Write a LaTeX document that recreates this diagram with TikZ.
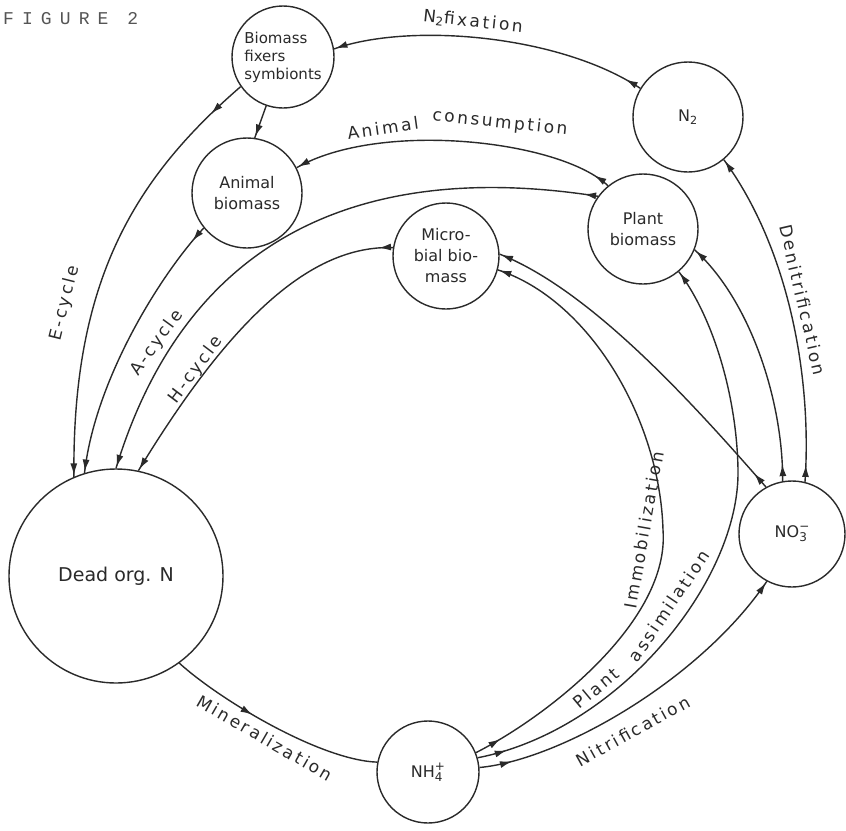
\documentclass[tikz,border=0pt]{standalone}
\usepackage{fontspec}
\usetikzlibrary{arrows.meta,decorations.markings}
\newfontfamily\lbl[LetterSpace=15]{DejaVu Sans}
\newfontfamily\nodefont{DejaVu Sans}
\newfontfamily\titlefont[LetterSpace=45]{Liberation Mono}
\definecolor{ink}{HTML}{2A2A2A}
\newcommand\ionsub[2]{\makebox[0pt][l]{\raisebox{-0.45ex}{\fontsize{12}{12}\selectfont #1}}\raisebox{0.85ex}{\fontsize{12}{12}\selectfont #2}}
\tikzset{
  tipA/.tip={Latex[length=12pt,width=7pt]},
  circ/.style={circle, draw=ink, line width=1.4pt, inner sep=0pt, text=ink,
    font=\nodefont\fontsize{16}{21}\selectfont, align=center},
  conn/.style={draw=ink, line width=1.4pt},
  endarr/.style={conn, decoration={markings, mark=at position -1.5pt with {\arrow{tipA}}}, postaction={decorate}},
  botharr/.style={conn, decoration={markings, mark=at position #1 with {\arrow{tipA}}, mark=at position -1.5pt with {\arrow{tipA}}}, postaction={decorate}},
  midarr/.style={conn, decoration={markings, mark=at position #1 with {\arrow{tipA}}}, postaction={decorate}},
  lab/.style={text=ink, font=\lbl\fontsize{17}{20}\selectfont, inner sep=0pt},
}
\begin{document}
\begin{tikzpicture}[x=1pt,y=1pt]
\useasboundingbox (0,0) rectangle (846,-830);
\fill[white] (0,0) rectangle (846,-830);

\node[text=ink!80, font=\titlefont\fontsize{18}{20}\selectfont, anchor=west, inner sep=0pt] (title) at (3,-19) {FIGURE 2};

% nodes
\node[circ, minimum size=102pt, align=left, font=\nodefont\fontsize{15}{18}\selectfont] (fix) at (283,-57) {Biomass\\fixers\\symbionts};
\node[circ, minimum size=110pt, font=\nodefont\fontsize{16}{18}\selectfont] (n2) at (688,-117) {N\textsubscript{2}};
\node[circ, minimum size=110pt] (ani) at (247,-193) {Animal\\biomass};
\node[circ, minimum size=106pt] (mic) at (446,-256) {Micro-\\bial bio-\\mass};
\node[circ, minimum size=110pt] (pla) at (643,-229) {Plant\\biomass};
\node[circ, minimum size=214pt, font=\nodefont\fontsize{19}{22}\selectfont] (dead) at (116,-576) {Dead org. N};
\node[circ, minimum size=102pt, font=\nodefont\fontsize{16}{18}\selectfont] (nh4) at (428,-772) {NH\ionsub{4}{+}};
\node[circ, minimum size=106pt, font=\nodefont\fontsize{16}{18}\selectfont] (no3) at (792,-534) {NO\ionsub{3}{\char"2212}};

\coordinate (imv) at (663,-530);
\coordinate (pav) at (738,-470);

% connectors
\draw[botharr=17pt] (n2.149) .. controls (560,-35) and (410,-22) .. (fix.9);
\draw[endarr] (fix.-109) -- (ani.82);
\draw[botharr=40pt] (fix.215) .. controls (135,-178) and (72,-280) .. (dead.113);
\draw[botharr=17pt] (ani.219) .. controls (160,-275) and (95,-380) .. (dead.107);
\draw[botharr=17pt] (pla.129) .. controls (560,-140) and (380,-120) .. (ani.27);
\draw[botharr=14pt] (pla.144) .. controls (398,-165) and (195,-209) .. (dead.90);
\draw[botharr=14pt] (mic.171) .. controls (310,-245) and (230,-320) .. (dead.78);
\draw[botharr=17pt] (no3.76) .. controls (812,-380) and (790,-250) .. (n2.-50);
\draw[botharr=17pt] (no3.100) .. controls (783,-400) and (750,-300) .. (pla.-22);
\draw[botharr=18pt] (no3.119) .. controls (690,-400) and (590,-290) .. (mic.2);
\draw[botharr=28pt] (nh4.22) .. controls (550,-715) and (670,-620) .. (imv) .. controls (660,-420) and (590,-300) .. (mic.-15);
\draw[botharr=30pt] (nh4.16) .. controls (620,-730) and (740,-580) .. (pav) .. controls (737,-400) and (715,-320) .. (pla.-50);
\draw[botharr=33pt] (nh4.5) .. controls (560,-760) and (700,-680) .. (no3.242);
\draw[midarr=0.4] (dead.-54) .. controls (220,-700) and (320,-760) .. (nh4.169);

% labels
\node[lab, rotate=-6] (lfix) at (473,-22) {N\textsubscript{2}fixation};
\node[lab, rotate=8] (lani1) at (383,-128) {Animal};
\node[lab, rotate=-6] (lani2) at (500,-123) {consumption};
\node[lab, rotate=-77] (lden) at (803,-300) {Denitrification};
\node[lab, rotate=76] (le) at (65,-303) {E-cycle};
\node[lab, rotate=54] (la) at (157,-343) {A-cycle};
\node[lab, rotate=53] (lh) at (196,-370) {H-cycle};
\node[lab, rotate=80] (lim) at (644,-530) {Immobilization};
\node[lab, rotate=40] (lpl1) at (596,-688) {Plant};
\node[lab, rotate=56] (lpl2) at (669,-606) {assimilation};
\node[lab, rotate=29] (lnit) at (633,-731) {Nitrification};
\node[lab, rotate=-30] (lmin) at (265,-738) {Mineralization};
\end{tikzpicture}
\end{document}
